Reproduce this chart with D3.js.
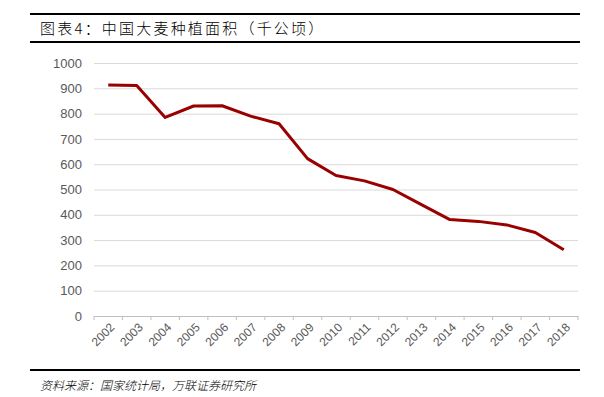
<!DOCTYPE html>
<html>
<head>
<meta charset="utf-8">
<script src="https://cdn.jsdelivr.net/npm/d3@7"></script>
<style>
  body { margin: 0; background: #fff; }
  .tick text { font-family: "Liberation Sans", Arial, sans-serif; font-size: 13px; fill: #595959; }
  .x-axis .tick text { font-size: 12px; }
</style>
</head>
<body>
<div id="chart"></div>
<script>
const years = ['2002','2003','2004','2005','2006','2007','2008','2009','2010',
  '2011','2012','2013','2014','2015','2016','2017','2018'];
const area = [913, 911, 785, 830, 831, 790, 760, 622, 555, 534, 500, 440, 381, 374, 360, 330, 262];
const yTicks = [0, 100, 200, 300, 400, 500, 600, 700, 800, 900, 1000];

const W = 604, H = 397;
const margin = {top: 63, right: 26, bottom: 81, left: 94};
const width = W - margin.left - margin.right;
const height = H - margin.top - margin.bottom;

const svg = d3.select('#chart').append('svg')
    .attr('width', W)
    .attr('height', H);

// title block rules
svg.append('rect').attr('x', 30).attr('y', 13).attr('width', 550).attr('height', 2).attr('fill', '#000');
svg.append('rect').attr('x', 30).attr('y', 41).attr('width', 550).attr('height', 2).attr('fill', '#000');
svg.append('text')
    .attr('x', 40).attr('y', 34)
    .style('font-family', '"Noto Sans CJK SC", sans-serif')
    .style('font-size', '15px')
    .style('font-weight', 300)
    .style('letter-spacing', '2.2px')
    .attr('fill', '#000')
    .text('图表4：中国大麦种植面积（千公顷）');

// source block
svg.append('rect').attr('x', 30).attr('y', 369).attr('width', 550).attr('height', 2).attr('fill', '#000');
svg.append('text')
    .attr('x', 40).attr('y', 390)
    .style('font-family', '"Noto Sans CJK SC", sans-serif')
    .style('font-size', '12px')
    .style('font-style', 'italic')
    .style('font-weight', 300)
    .attr('fill', '#000')
    .text('资料来源：国家统计局，万联证券研究所');

const chart = svg.append('g')
    .attr('transform', `translate(${margin.left},${margin.top})`);

const xScale = d3.scaleBand().domain(years).range([0, width]);
const yScale = d3.scaleLinear().domain([0, 1000]).range([height, 0]);

// grid + y labels
const yAxis = d3.axisLeft(yScale)
    .tickValues(yTicks)
    .tickFormat(d3.format('d'))
    .tickSize(-width)
    .tickPadding(12);
chart.append('g').call(yAxis)
    .call(g => g.select('.domain').remove())
    .call(g => g.selectAll('.tick line').attr('stroke', '#d9d9d9').attr('stroke-width', 1));

// x axis
const xAxis = d3.axisBottom(xScale).tickSize(0).tickPadding(0);
const xg = chart.append('g')
    .attr('class', 'x-axis')
    .attr('transform', `translate(0,${height})`)
    .call(xAxis);
xg.select('.domain').attr('stroke', '#bfbfbf');
xg.selectAll('.tick text')
    .attr('text-anchor', 'end')
    .attr('dx', '0.3em')
    .attr('dy', '0.3em')
    .attr('transform', 'translate(2,12) rotate(-45)');

// band boundary ticks
const bounds = years.map(d => xScale(d)).concat([width]);
xg.selectAll('.bound')
    .data(bounds)
    .join('line')
    .attr('class', 'bound')
    .attr('x1', d => d).attr('x2', d => d)
    .attr('y1', 0).attr('y2', 4)
    .attr('stroke', '#bfbfbf');

const line = d3.line()
    .x((d, i) => xScale(years[i]) + xScale.bandwidth() / 2)
    .y(d => yScale(d));

chart.append('path')
    .datum(area)
    .attr('fill', 'none')
    .attr('stroke', '#990000')
    .attr('stroke-width', 3)
    .attr('stroke-linejoin', 'round')
    .attr('d', line);
</script>
</body>
</html>
